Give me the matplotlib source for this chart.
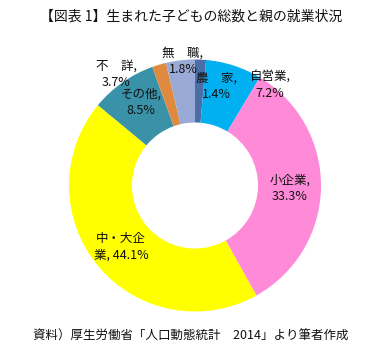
import matplotlib
matplotlib.use("Agg")
import matplotlib.pyplot as plt

plt.rcParams['font.family'] = ['Noto Sans CJK JP', 'DejaVu Sans']

categories = ['農　家', '自営業', '小企業', '中・大企業', 'その他', '無　職', '不　詳']
values = [1.4, 7.2, 33.3, 44.1, 8.5, 1.8, 3.7]
colors = ['#4A6EA6', '#00B0F0', '#FF8AD8', '#FFFF00', '#3A92A8', '#E08A40', '#9AAAD6']

title = '【図表 1】生まれた子どもの総数と親の就業状況'
source = '資料）厚生労働省「人口動態統計　2014」より筆者作成'

# label texts and their placement (pixels in the image)
label_texts = ['農　家,\n1.4%', '自営業,\n7.2%', '小企業,\n33.3%', '中・大企\n業, 44.1%',
               'その他,\n8.5%', '無　職,\n1.8%', '不　詳,\n3.7%']
label_px = [(216, 86), (270, 85), (290, 188), (121, 247), (141, 102), (183, 61), (116, 74)]

W, H = 381, 363
dpi = 100
fig = plt.figure(figsize=(W / dpi, H / dpi), dpi=dpi)
cx, cy, r = 195, 185.5, 126
ax = fig.add_axes([(cx - r) / W, (H - cy - r) / H, 2 * r / W, 2 * r / H])
ax.pie(values, colors=colors, startangle=90, counterclock=False, radius=1.0,
       wedgeprops=dict(width=0.5, linewidth=0))
ax.set_xlim(-1, 1)
ax.set_ylim(-1, 1)
ax.set_aspect('equal')
ax.axis('off')

for txt, (px, py) in zip(label_texts, label_px):
    ax.text((px - cx) / r, (cy - py) / r, txt, ha='center', va='center',
            fontsize=9, color='#111111', linespacing=1.35)

fig.text(191 / W, 1 - 17 / H, title, ha='center', va='center', fontsize=10, color='#111111')
fig.text(191 / W, 1 - 336 / H, source, ha='center', va='center', fontsize=9, color='#111111')

fig.savefig('out.png', dpi=dpi, facecolor='white')
